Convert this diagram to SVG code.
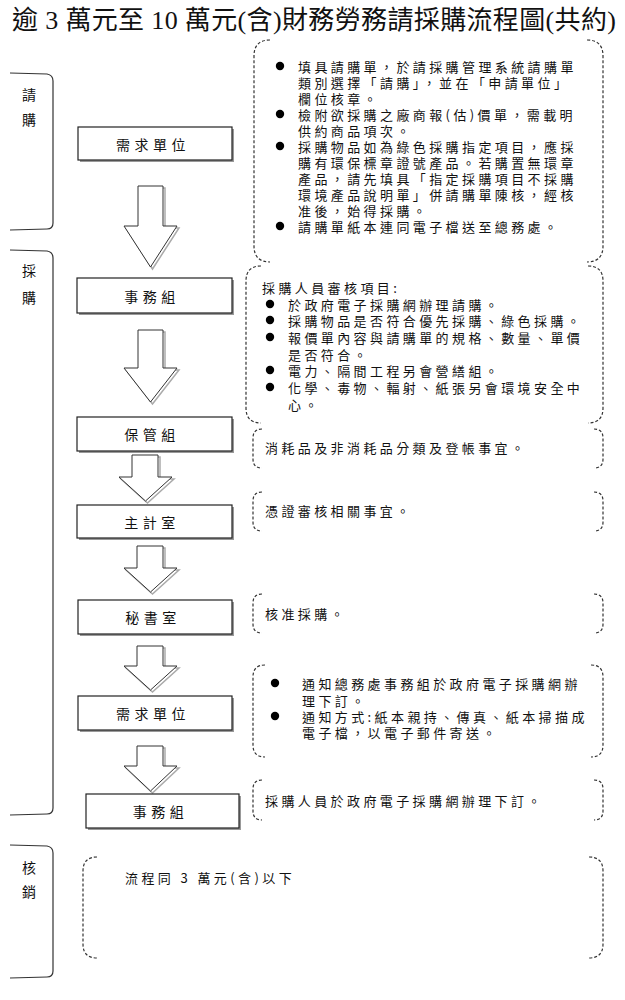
<svg xmlns="http://www.w3.org/2000/svg" width="625" height="1000" viewBox="0 0 625 1000">
<style>
text{font-family:"Liberation Serif","Noto Sans CJK TC",serif;fill:#111;}
.t{font-family:"Noto Sans CJK TC","Noto Sans CJK SC",sans-serif;font-size:13px;letter-spacing:3.4px;dominant-baseline:central;}
.lb{font-family:"Noto Sans CJK TC","Noto Sans CJK SC",sans-serif;font-size:14px;letter-spacing:4.5px;dominant-baseline:central;}
.lane{font-family:"Noto Sans CJK TC","Noto Sans CJK SC",sans-serif;font-size:14px;text-anchor:middle;dominant-baseline:central;}
.box{fill:#fff;stroke:#222;stroke-width:1.2;}
.sh{fill:#999;}
.dash{fill:none;stroke:#333;stroke-width:1.2;stroke-dasharray:3 2;}
.br{fill:none;stroke:#333;stroke-width:1.2;}
.arr{fill:#fff;stroke:#333;stroke-width:1;}
.ash{fill:none;stroke:#aaa;stroke-width:1.5;}
</style>
<rect width="625" height="1000" fill="#fff"/>
<text x="12" y="20" font-size="26" textLength="604" lengthAdjust="spacing" dominant-baseline="central">逾 3 萬元至 10 萬元(含)財務勞務請採購流程圖(共約)</text>

<g id="lanes">
<path class="br" d="M10,73 L47,74 Q53,75 53,81 L53,223 Q53,229 47,229 L10,230"/>
<text class="lane" x="29" y="94">請</text><text class="lane" x="29" y="119">購</text>
<path class="br" d="M10,250 L47,251 Q53,252 53,258 L53,808 Q53,814 47,814 L10,815"/>
<text class="lane" x="29" y="270">採</text><text class="lane" x="29" y="297">購</text>
<path class="br" d="M10,845 L47,846 Q53,847 53,853 L53,971 Q53,977 47,977 L10,978"/>
<text class="lane" x="29" y="867">核</text><text class="lane" x="29" y="891">銷</text>
</g>

<g id="connectors">
<g transform="translate(2,2)"><polygon class="ash" points="138,186 163,186 163,226 177,226 150.5,267 124,226 138,226"/></g>
<polygon class="arr" points="138,186 163,186 163,226 177,226 150.5,267 124,226 138,226"/>
<g transform="translate(2,2)"><polygon class="ash" points="138,330 163,330 163,368 177,368 150.5,402 124,368 138,368"/></g>
<polygon class="arr" points="138,330 163,330 163,368 177,368 150.5,402 124,368 138,368"/>
<g transform="translate(2,2)"><polygon class="ash" points="132,455 158,455 158,477 172,477 145.5,501 119,477 132,477"/></g>
<polygon class="arr" points="132,455 158,455 158,477 172,477 145.5,501 119,477 132,477"/>
<g transform="translate(2,2)"><polygon class="ash" points="137,546 163,546 163,568 177,568 150.5,592 124,568 137,568"/></g>
<polygon class="arr" points="137,546 163,546 163,568 177,568 150.5,592 124,568 137,568"/>
<g transform="translate(2,2)"><polygon class="ash" points="137,646 163,646 163,666 177,666 150.5,690 124,666 137,666"/></g>
<polygon class="arr" points="137,646 163,646 163,666 177,666 150.5,690 124,666 137,666"/>
<g transform="translate(2,2)"><polygon class="ash" points="137,746 163,746 163,766 177,766 150.5,791 124,766 137,766"/></g>
<polygon class="arr" points="137,746 163,746 163,766 177,766 150.5,791 124,766 137,766"/>
</g>

<g id="n1"><rect class="sh" x="80" y="129" width="154" height="33"/><rect class="box" x="78" y="127" width="154" height="33"/><text class="lb" x="153" y="143.5" text-anchor="middle">需求單位</text></g>
<g id="n2"><rect class="sh" x="79" y="280" width="155" height="35"/><rect class="box" x="77" y="278" width="155" height="35"/><text class="lb" x="152" y="295.5" text-anchor="middle">事務組</text></g>
<g id="n3"><rect class="sh" x="79" y="419" width="155" height="34"/><rect class="box" x="77" y="417" width="155" height="34"/><text class="lb" x="152" y="434" text-anchor="middle">保管組</text></g>
<g id="n4"><rect class="sh" x="79" y="507" width="155" height="33"/><rect class="box" x="77" y="505" width="155" height="33"/><text class="lb" x="152" y="521.5" text-anchor="middle">主計室</text></g>
<g id="n5"><rect class="sh" x="80" y="602" width="154" height="34"/><rect class="box" x="78" y="600" width="154" height="34"/><text class="lb" x="153" y="617" text-anchor="middle">秘書室</text></g>
<g id="n6"><rect class="sh" x="80" y="698" width="154" height="34"/><rect class="box" x="78" y="696" width="154" height="34"/><text class="lb" x="153" y="713" text-anchor="middle">需求單位</text></g>
<g id="n7"><rect class="sh" x="88" y="796" width="153" height="34"/><rect class="box" x="86" y="794" width="153" height="34"/><text class="lb" x="160.5" y="811" text-anchor="middle">事務組</text></g>

<g id="note1">
<path class="dash" d="M270,40 Q254,40 254,56 L254,246 Q254,262 270,262"/>
<path class="dash" d="M587,40 Q603,40 603,56 L603,246 Q603,262 587,262"/>
<circle cx="280" cy="66" r="4.2"/><circle cx="280" cy="114" r="4.2"/><circle cx="280" cy="146" r="4.2"/><circle cx="280" cy="226" r="4.2"/>
<text class="t" x="298" y="66">填具請購單，於請採購管理系統請購單</text>
<text class="t" x="298" y="82">類別選擇「請購」，並在「申請單位」</text>
<text class="t" x="298" y="98">欄位核章。</text>
<text class="t" x="298" y="114">檢附欲採購之廠商報(估)價單，需載明</text>
<text class="t" x="298" y="130">供約商品項次。</text>
<text class="t" x="298" y="146">採購物品如為綠色採購指定項目，應採</text>
<text class="t" x="298" y="162">購有環保標章證號產品。若購置無環章</text>
<text class="t" x="298" y="178">產品，請先填具「指定採購項目不採購</text>
<text class="t" x="298" y="194">環境產品說明單」併請購單陳核，經核</text>
<text class="t" x="298" y="210">准後，始得採購。</text>
<text class="t" x="298" y="226">請購單紙本連同電子檔送至總務處。</text>
</g>

<g id="note2">
<path class="dash" d="M261,266 Q246,266 246,281 L246,408 Q246,423 261,423"/>
<path class="dash" d="M588,266 Q603,266 603,281 L603,408 Q603,423 588,423"/>
<text class="t" x="262" y="287">採購人員審核項目:</text>
<circle cx="270" cy="304" r="4.2"/><circle cx="270" cy="320" r="4.2"/><circle cx="270" cy="337" r="4.2"/><circle cx="270" cy="370" r="4.2"/><circle cx="270" cy="387" r="4.2"/>
<text class="t" x="288" y="304">於政府電子採購網辦理請購。</text>
<text class="t" x="288" y="320">採購物品是否符合優先採購、綠色採購。</text>
<text class="t" x="288" y="337">報價單內容與請購單的規格、數量、單價</text>
<text class="t" x="288" y="354">是否符合。</text>
<text class="t" x="288" y="370">電力、隔間工程另會營繕組。</text>
<text class="t" x="288" y="387">化學、毒物、輻射、紙張另會環境安全中</text>
<text class="t" x="288" y="404">心。</text>
</g>

<g id="note3">
<path class="dash" d="M262,429 Q253,429 253,438 L253,459 Q253,468 262,468"/>
<path class="dash" d="M594,429 Q603,429 603,438 L603,459 Q603,468 594,468"/>
<text class="t" x="265" y="447">消耗品及非消耗品分類及登帳事宜。</text>
</g>

<g id="note4">
<path class="dash" d="M262,492 Q253,492 253,501 L253,522 Q253,531 262,531"/>
<path class="dash" d="M594,492 Q603,492 603,501 L603,522 Q603,531 594,531"/>
<text class="t" x="265" y="510">憑證審核相關事宜。</text>
</g>

<g id="note5">
<path class="dash" d="M262,594 Q253,594 253,603 L253,624 Q253,633 262,633"/>
<path class="dash" d="M594,594 Q603,594 603,603 L603,624 Q603,633 594,633"/>
<text class="t" x="265" y="613">核准採購。</text>
</g>

<g id="note6">
<path class="dash" d="M265,665 Q253,665 253,677 L253,745 Q253,757 265,757"/>
<path class="dash" d="M591,665 Q603,665 603,677 L603,745 Q603,757 591,757"/>
<circle cx="275" cy="683" r="4.2"/><circle cx="275" cy="716" r="4.2"/>
<text class="t" x="302" y="683">通知總務處事務組於政府電子採購網辦</text>
<text class="t" x="302" y="700">理下訂。</text>
<text class="t" x="302" y="716">通知方式:紙本親持、傳真、紙本掃描成</text>
<text class="t" x="302" y="732">電子檔，以電子郵件寄送。</text>
</g>

<g id="note7">
<path class="dash" d="M262,780 Q253,780 253,789 L253,811 Q253,820 262,820"/>
<path class="dash" d="M594,780 Q603,780 603,789 L603,811 Q603,820 594,820"/>
<text class="t" x="265" y="800">採購人員於政府電子採購網辦理下訂。</text>
</g>

<g id="note8">
<path class="dash" d="M97,857 Q83,857 83,871 L83,944 Q83,958 97,958"/>
<path class="dash" d="M589,857 Q603,857 603,871 L603,944 Q603,958 589,958"/>
<text class="t" x="125" y="877">流程同 3 萬元(含)以下</text>
</g>
</svg>
